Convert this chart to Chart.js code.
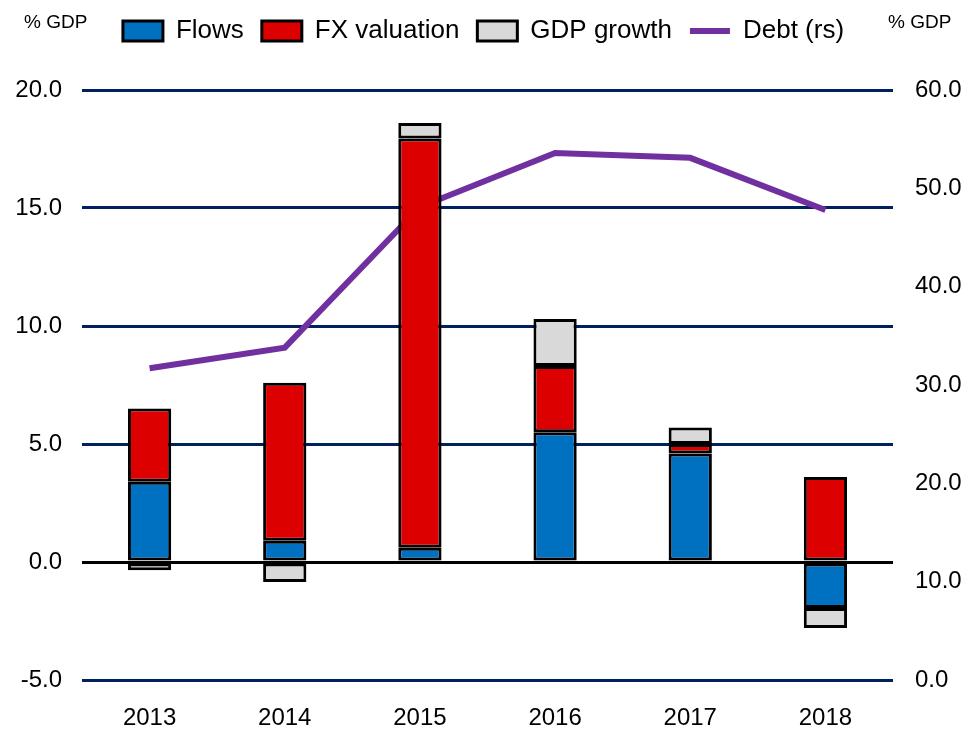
<!DOCTYPE html>
<html>
<head>
<meta charset="utf-8">
<script src="https://cdn.jsdelivr.net/npm/chart.js@4.4.0/dist/chart.umd.min.js"></script>
<style>
  html, body { margin: 0; padding: 0; background: #fff; }
  #wrap { width: 967px; height: 729px; }
</style>
</head>
<body>
<div id="wrap"><canvas id="chart" width="967" height="729"></canvas></div>
<script>
// 数据
const years = ['2013', '2014', '2015', '2016', '2017', '2018'];
const flows = [3.4, 0.9, 0.6, 5.5, 4.6, -1.95];
const fxValuation = [3.1, 6.7, 17.35, 2.8, 0.4, 3.6];
const gdpGrowth = [-0.35, -0.85, 0.65, 2.0, 0.7, -0.85];
const debt = [31.7, 33.8, 48.1, 53.6, 53.1, 47.8];

const FONT = '"Liberation Sans Narrow", "Liberation Sans", Arial, sans-serif';
const GRID_BLUE = '#002060';

// 顶部的 "% GDP" 标签
const unitLabels = {
    id: 'unitLabels',
    afterDraw(chart) {
        const ctx = chart.ctx;
        ctx.save();
        ctx.fillStyle = '#000';
        ctx.font = '19px ' + FONT;
        ctx.textBaseline = 'middle';
        ctx.textAlign = 'left';
        ctx.fillText('% GDP', 24, 23);
        ctx.fillText('% GDP', 888, 23);
        ctx.restore();
    }
};

// 图例下方留出空白，让绘图区从 y=90 开始
const legendSpacer = {
    id: 'legendSpacer',
    beforeLayout(chart) {
        const legend = chart.legend;
        if (legend && !legend._patched) {
            const fit = legend.fit;
            legend.fit = function () {
                fit.call(this);
                this.height += 36;
            };
            legend._patched = true;
        }
    }
};

const barStyle = {
    borderColor: '#000',
    borderWidth: 3,
    borderSkipped: false,
    barPercentage: 0.32,
    categoryPercentage: 1,
    yAxisID: 'y',
    order: 0,
    pointStyle: 'rect'
};

new Chart(document.getElementById('chart'), {
    data: {
        labels: years,
        datasets: [
            Object.assign({ type: 'bar', label: 'Flows', data: flows, backgroundColor: '#0070C0' }, barStyle),
            Object.assign({ type: 'bar', label: 'FX valuation', data: fxValuation, backgroundColor: '#DD0000' }, barStyle),
            Object.assign({ type: 'bar', label: 'GDP growth', data: gdpGrowth, backgroundColor: '#D9D9D9' }, barStyle),
            {
                type: 'line',
                label: 'Debt (rs)',
                data: debt,
                borderColor: '#7030A0',
                backgroundColor: '#7030A0',
                borderWidth: 6,
                pointRadius: 0,
                tension: 0,
                yAxisID: 'y1',
                order: 1,
                pointStyle: 'line'
            }
        ]
    },
    options: {
        responsive: false,
        animation: false,
        layout: { padding: 0 },
        plugins: {
            tooltip: { enabled: false },
            legend: {
                position: 'top',
                labels: {
                    usePointStyle: true,
                    pointStyleWidth: 40,
                    boxHeight: 20,
                    padding: 18,
                    color: '#000',
                    font: { family: FONT, size: 26 },
                    sort: (a, b) => a.datasetIndex - b.datasetIndex
                }
            }
        },
        scales: {
            x: {
                stacked: true,
                grid: { display: false, drawTicks: false },
                border: { display: false },
                ticks: { color: '#000', font: { family: FONT, size: 24 }, padding: 24 },
                afterFit: s => { s.height = 49; }
            },
            y: {
                stacked: true,
                position: 'left',
                min: -5,
                max: 20,
                ticks: {
                    stepSize: 5,
                    color: '#000',
                    padding: 20,
                    font: { family: FONT, size: 24 },
                    callback: v => v.toFixed(1)
                },
                grid: {
                    drawTicks: false,
                    lineWidth: 3,
                    color: ctx => ctx.tick && ctx.tick.value === 0 ? '#000' : GRID_BLUE
                },
                border: { display: false },
                afterFit: s => { s.width = 82; }
            },
            y1: {
                position: 'right',
                min: 0,
                max: 60,
                ticks: {
                    stepSize: 10,
                    color: '#000',
                    padding: 22,
                    font: { family: FONT, size: 24 },
                    callback: v => v.toFixed(1)
                },
                grid: { display: false, drawTicks: false },
                border: { display: false },
                afterFit: s => { s.width = 74; }
            }
        }
    },
    plugins: [unitLabels, legendSpacer]
});
</script>
</body>
</html>
